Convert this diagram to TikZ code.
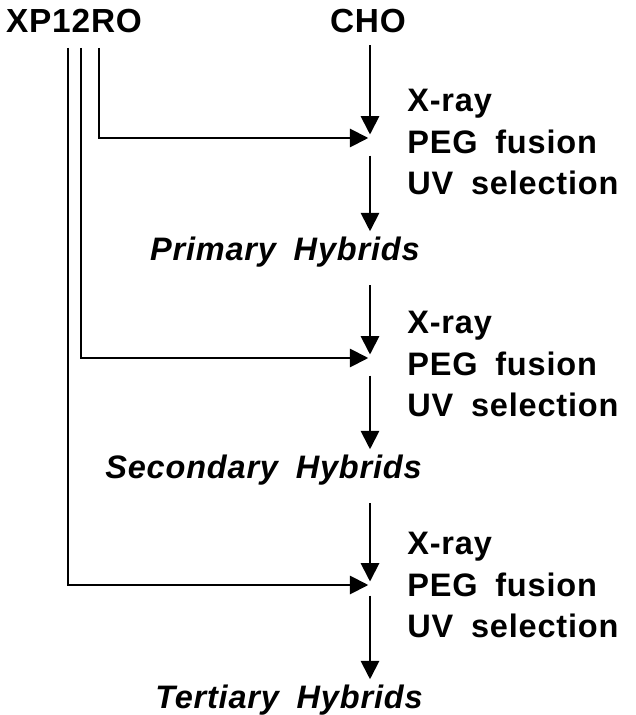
\documentclass[tikz,border=0pt]{standalone}
\usepackage{fontspec}
\usepackage{tikz}
\usetikzlibrary{arrows.meta, positioning, calc}
\newfontfamily\figfont{Liberation Sans}[LetterSpace=2.5, WordSpace=2.6]
\newfontfamily\hybfont{Liberation Sans}[LetterSpace=2.5, WordSpace=1.8]
\tikzset{
  strain/.style={font=\figfont\bfseries\fontsize{19}{20}\selectfont, inner sep=0pt},
  treat/.style={font=\figfont\bfseries\fontsize{18.5}{23.5}\selectfont, align=left, anchor=west, inner sep=0pt},
  hybrid/.style={font=\hybfont\bfseries\itshape\fontsize{18.5}{18}\selectfont, anchor=east, inner sep=0pt},
  arrow/.style={-{Triangle[length=10.5pt, width=10.5pt]}, line width=1.1pt, color=black},
  line/.style={line width=1pt, color=black}
}

\begin{document}
\begin{tikzpicture}[x=0.02cm, y=-0.02cm]
  \useasboundingbox (0,0) rectangle (635,715);

  % Nodes
  \node[strain] (xp) at (74,21) {XP12RO};
  \node[strain] (cho) at (368,21) {CHO};

  \coordinate (m1) at (370,138);
  \coordinate (m2) at (370,358);
  \coordinate (m3) at (370,585);

  \coordinate (s1) at (99,48);
  \coordinate (s2) at (81,48);
  \coordinate (s3) at (68,48);

  \node[treat] (t1) at (407,142) {X-ray\\PEG fusion\\UV selection};
  \node[treat] (t2) at (407,364) {X-ray\\PEG fusion\\UV selection};
  \node[treat] (t3) at (407,585) {X-ray\\PEG fusion\\UV selection};

  \node[hybrid] (h1) at (420,252) {Primary Hybrids};
  \node[hybrid] (h2) at (422,470) {Secondary Hybrids};
  \node[hybrid] (h3) at (423,700) {Tertiary Hybrids};

  % Connections
  \draw[arrow, shorten >=2pt] ([yshift=-7pt]cho.south -| m1) -- (m1);
  \draw[arrow, shorten >=1pt] (s1) |- (m1);
  \draw[arrow, shorten >=1pt] (s2) |- (m2);
  \draw[arrow, shorten >=1pt] (s3) |- (m3);

  \draw[arrow] ([yshift=-10pt]m1) -- ([yshift=3pt]h1.north -| m1);
  \draw[arrow, shorten >=2pt] ([yshift=-10pt]h1.south -| m1) -- (m2);
  \draw[arrow] ([yshift=-10pt]m2) -- ([yshift=3pt]h2.north -| m2);
  \draw[arrow, shorten >=2pt] ([yshift=-10pt]h2.south -| m2) -- (m3);
  \draw[arrow] ([yshift=-6pt]m3) -- ([yshift=3pt]h3.north -| m3);

\end{tikzpicture}
\end{document}
